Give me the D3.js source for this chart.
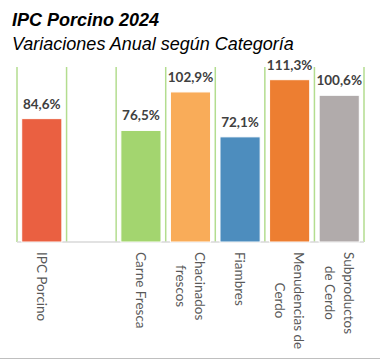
<!DOCTYPE html>
<html>
<head>
<meta charset="utf-8">
<script src="https://cdn.jsdelivr.net/npm/d3@7"></script>
<style>
  body { margin: 0; background: #fff; }
  .title { font-family: "Liberation Sans", Arial, sans-serif; font-size: 18px; font-style: italic; fill: #000; }
  .value-label { font-family: Lato, sans-serif; font-weight: bold; font-size: 13.5px; fill: #404040; }
  .cat-label { font-family: Lato, sans-serif; font-size: 13.5px; fill: #595959; }
</style>
</head>
<body>
<svg id="chart"></svg>
<script>
// chart data
const categories = ["IPC Porcino", "", "Carne Fresca", "Chacinados frescos", "Fiambres", "Menudencias de Cerdo", "Subproductos de Cerdo"];
const tickLines = [["IPC Porcino"], [], ["Carne Fresca"], ["Chacinados", "frescos"], ["Fiambres"], ["Menudencias de", "Cerdo"], ["Subproductos", "de Cerdo"]];
const values = [84.6, null, 76.5, 102.9, 72.1, 111.3, 100.6];
const barColors = ["#ea6041", null, "#a3d56f", "#f9ac59", "#4d8dbe", "#ed7e31", "#b1abab"];

var wtot = 380, htot = 360;
var margin = { top: 67, left: 17, right: 16, bottom: 118 };

const svg = d3.select("#chart")
    .attr("width", wtot)
    .attr("height", htot);

// titles
svg.append("text")
    .attr("class", "title")
    .attr("x", 12)
    .attr("y", 26)
    .style("font-weight", "bold")
    .text("IPC Porcino 2024");

svg.append("text")
    .attr("class", "title")
    .attr("x", 12)
    .attr("y", 50)
    .text("Variaciones Anual según Categoría");

// scales
const I = d3.range(categories.length);
const x = d3.scaleBand(I, [margin.left, wtot - margin.right]);
const y = d3.scaleLinear([0, 120], [htot - margin.bottom, margin.top]);

// vertical green gridlines at category boundaries
const gridX = d3.range(categories.length + 1).map(i => x.range()[0] + i * x.step());
svg.append("g")
    .selectAll("line")
    .data(gridX)
    .join("line")
    .attr("x1", d => d)
    .attr("x2", d => d)
    .attr("y1", y(120))
    .attr("y2", y(0))
    .attr("stroke", "#b3dd8f")
    .attr("stroke-width", 1.5);

// baseline
svg.append("line")
    .attr("x1", x.range()[0])
    .attr("x2", x.range()[1])
    .attr("y1", y(0))
    .attr("y2", y(0))
    .attr("stroke", "#d9d9d9")
    .attr("stroke-width", 1.5);

// bars
const barW = x.step() * 0.81;
const withVal = I.filter(i => values[i] != null);
svg.append("g")
    .selectAll("rect")
    .data(withVal)
    .join("rect")
    .attr("x", i => x(i) + (x.step() - barW) / 2)
    .attr("y", i => y(values[i]))
    .attr("width", barW)
    .attr("height", i => y(0) - y(values[i]))
    .attr("fill", i => barColors[i])
    .attr("stroke", "#fff")
    .attr("stroke-width", 1);

// value labels
svg.append("g")
    .selectAll("text")
    .data(withVal)
    .join("text")
    .attr("class", "value-label")
    .attr("x", i => x(i) + x.step() / 2)
    .attr("y", i => y(values[i]) - 10)
    .attr("text-anchor", "middle")
    .text(i => d3.format(".1f")(values[i]).replace(".", ",") + "%");

// rotated category labels
const lineH = 19;
const labels = svg.append("g")
    .selectAll("g")
    .data(I)
    .join("g")
    .attr("transform", i => `translate(${x(i) + x.step() / 2},252) rotate(90)`);

labels.each(function(i) {
    const g = d3.select(this);
    const lines = tickLines[i];
    const n = lines.length;
    const texts = g.selectAll("text")
        .data(lines)
        .join("text")
        .attr("class", "cat-label")
        .attr("text-anchor", "middle")
        .attr("y", (d, k) => (k - (n - 1) / 2) * lineH)
        .attr("dy", "0.35em")
        .text(d => d);
    let maxW = 0;
    texts.each(function() { maxW = Math.max(maxW, this.getComputedTextLength()); });
    texts.attr("x", maxW / 2);
});

// bottom border
svg.append("line")
    .attr("x1", 0)
    .attr("x2", wtot)
    .attr("y1", 358.5)
    .attr("y2", 358.5)
    .attr("stroke", "#bfbfbf")
    .attr("stroke-width", 1);
</script>
</body>
</html>
